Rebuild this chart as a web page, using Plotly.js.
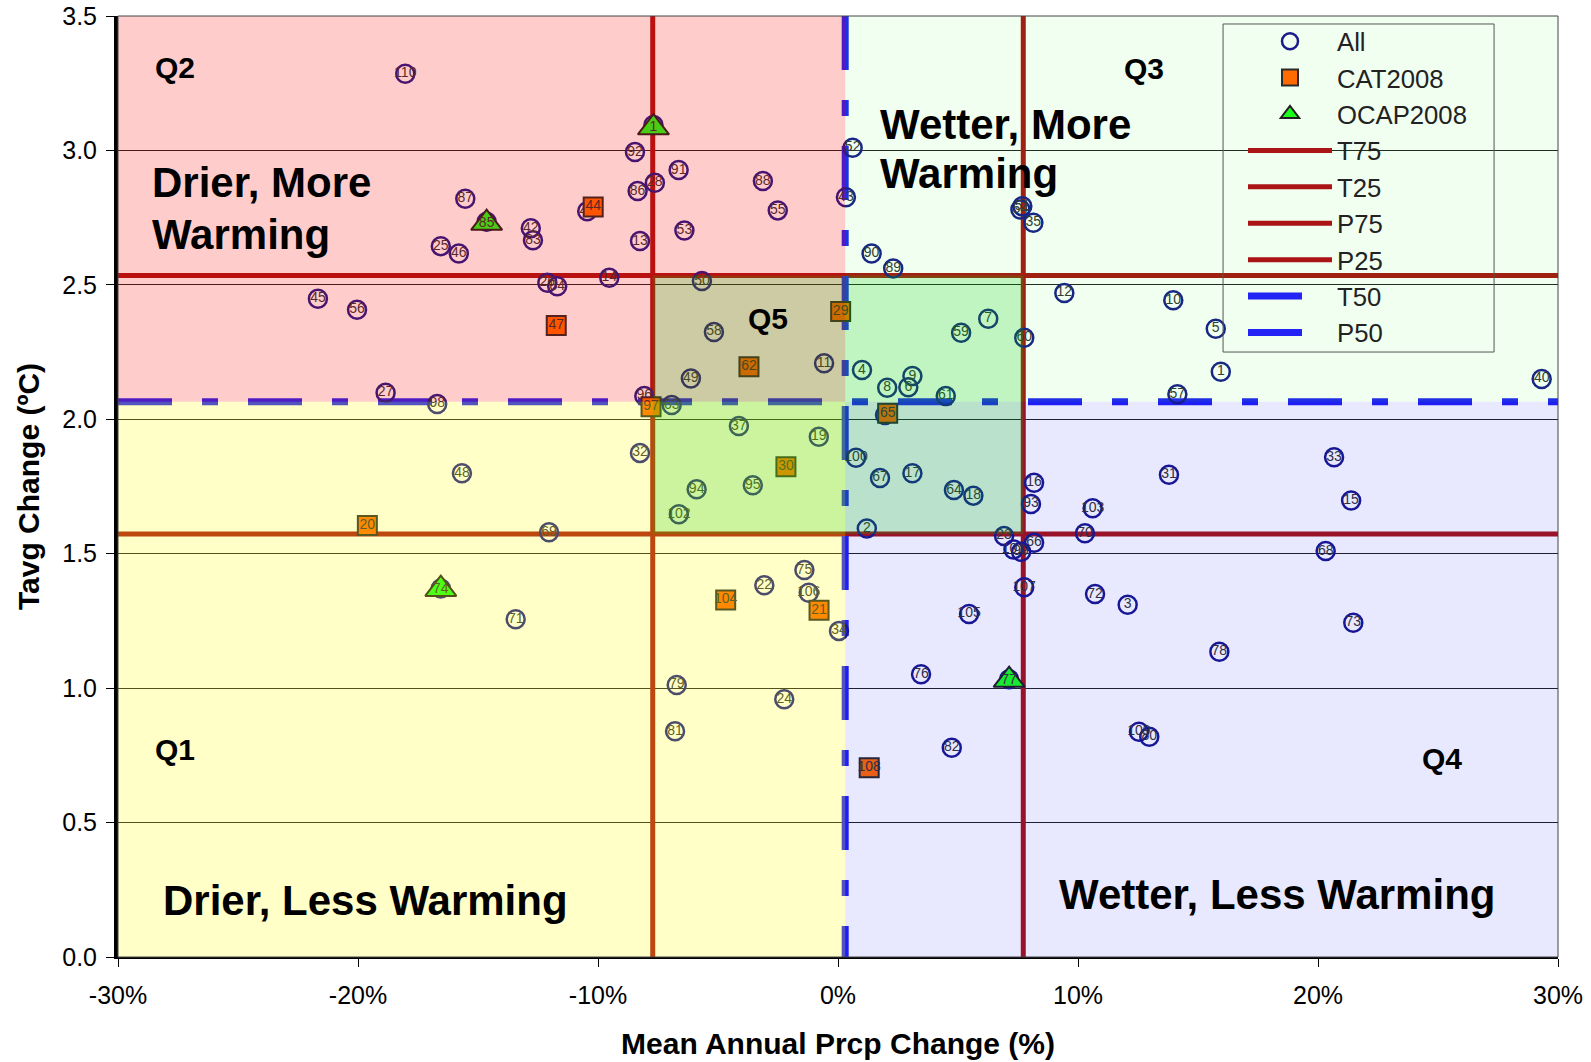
<!DOCTYPE html>
<html><head><meta charset="utf-8">
<script src="https://cdn.plot.ly/plotly-3.0.1.min.js"></script>
<style>html,body{margin:0;padding:0;background:#fff}#chart{width:1591px;height:1062px}</style>
</head><body><div id="chart"></div>
<script>
// ---- data ----
const allLabels = ["110","87","85","25","46","42","83","41","45","56","26","84","14","1","92","91","28","86","88","55","53","13","52","43","50","58","27","98","96","63","49","11",
"54","51","35","90","89","12","7","59","60","10","5","1","40","57","4","9","8","6","61",
"65","37","19","32","100","67","17","94","95","64","18","16","93","102","2","23","101","99","66","70","103","33","31","15","68","72","3","73","78","109","80",
"75","22","106","34","105","107","79","24","81","76","77","82","48","69","74","71"];
const allX = [-18.03,-15.53,-14.64,-16.55,-15.80,-12.80,-12.71,-10.45,-21.67,-20.04,-12.11,-11.70,-9.53,-7.69,-8.46,-6.64,-7.63,-8.35,-3.13,-2.51,-6.40,-8.25,0.61,0.33,-5.67,-5.17,-18.85,-16.70,-8.07,-6.93,-6.13,-0.58,
7.60,7.68,8.14,1.40,2.30,9.43,6.26,5.13,7.76,13.97,15.74,15.95,29.32,14.14,1.00,3.10,2.05,2.93,4.49,
1.96,-4.13,-0.80,-8.25,0.75,1.75,3.10,-5.89,-3.55,4.83,5.64,8.17,8.04,-6.63,1.20,6.92,7.31,7.63,8.17,10.29,10.61,20.67,13.79,21.38,20.32,10.71,12.07,21.47,15.89,12.54,12.97,
-1.40,-3.07,-1.22,0.04,5.46,7.76,-6.72,-2.24,-6.79,3.46,7.13,4.74,-15.67,-12.04,-16.55,-13.43];
const allY = [3.285,2.820,2.735,2.644,2.617,2.711,2.666,2.774,2.448,2.407,2.508,2.495,2.526,3.095,2.994,2.927,2.880,2.849,2.886,2.777,2.702,2.663,3.010,2.826,2.514,2.325,2.099,2.057,2.087,2.053,2.152,2.208,
2.780,2.792,2.731,2.617,2.561,2.470,2.374,2.322,2.303,2.443,2.337,2.177,2.150,2.093,2.183,2.161,2.117,2.119,2.087,
2.016,1.975,1.935,1.875,1.857,1.782,1.799,1.740,1.755,1.737,1.716,1.764,1.685,1.647,1.594,1.566,1.516,1.507,1.541,1.576,1.669,1.859,1.794,1.698,1.510,1.350,1.310,1.243,1.135,0.838,0.819,
1.439,1.383,1.355,1.213,1.276,1.375,1.012,0.959,0.840,1.052,1.033,0.778,1.799,1.580,1.371,1.256];

const catLabels = ["44","47","20","29","62","97","65","30","104","21","108"];
const catX = [-10.20,-11.74,-19.61,0.11,-3.71,-7.79,2.07,-2.17,-4.68,-0.79,1.30];
const catY = [2.790,2.349,1.605,2.401,2.195,2.047,2.022,1.823,1.328,1.290,0.704];

const ocapLabels = ["1","85","74","77"];
const ocapX = [-7.69,-14.64,-16.55,7.13];
const ocapY = [3.085,2.730,1.368,1.030];

const T75 = 2.535, T25 = 1.573, P75 = 7.72, P25 = -7.72, T50 = 2.065, P50 = 0.3;
const xRange = [-30, 30];
const yRange = [0, 3.5];
const xTickVals = [-30,-20,-10,0,10,20,30];
const xTickText = ["-30%","-20%","-10%","0%","10%","20%","30%"];
const yTickVals = [0,0.5,1,1.5,2,2.5,3,3.5];
const yTickText = ["0.0","0.5","1.0","1.5","2.0","2.5","3.0","3.5"];

// ---- styling ----
const FONT = "Liberation Sans, Arial, sans-serif";
const RED = "#AA1414", BLUE = "#2323F5";
const dashPat = "54px,30px,16px,30px";

const hLine = (name, v, color, dash, width, rank) => ({
  type: "scatter", mode: "lines", name, x: [xRange[0], xRange[1]], y: [v, v],
  line: {color, width, dash}, hoverinfo: "skip", legendrank: rank
});
const vLine = (name, v, color, dash, width, rank) => ({
  type: "scatter", mode: "lines", name, x: [v, v], y: [yRange[1], yRange[0]],
  line: {color, width, dash}, hoverinfo: "skip", legendrank: rank
});

const labelFont = {family: FONT, size: 14, color: "#333"};
const traces = [
  hLine("T75", T75, RED, "solid", 5, 4),
  hLine("T25", T25, RED, "solid", 5, 5),
  vLine("P75", P75, RED, "solid", 5, 6),
  vLine("P25", P25, RED, "solid", 5, 7),
  hLine("T50", T50, BLUE, dashPat, 7, 8),
  vLine("P50", P50, BLUE, dashPat, 7, 9),
  {type: "scatter", mode: "markers", name: "All", x: allX, y: allY, legendrank: 1,
   marker: {symbol: "circle-open", size: 18, color: "#1a1a8c", line: {width: 2.5, color: "#1a1a8c"}}},
  {type: "scatter", mode: "text", x: allX, y: allY, text: allLabels, showlegend: false, hoverinfo: "skip",
   textposition: "middle center", textfont: labelFont},
  {type: "scatter", mode: "markers", name: "CAT2008", x: catX, y: catY, legendrank: 2,
   marker: {symbol: "square", size: 19, color: "#FF6A00", line: {width: 2, color: "#2a2a2a"}}},
  {type: "scatter", mode: "text", x: catX, y: catY, text: catLabels, showlegend: false, hoverinfo: "skip",
   textposition: "middle center", textfont: labelFont},
  {type: "scatter", mode: "markers", name: "OCAP2008", x: ocapX, y: ocapY, legendrank: 3,
   marker: {symbol: "triangle-up", size: 27, color: "#1CFF1C", line: {width: 2, color: "#202020"}}},
  {type: "scatter", mode: "text", x: ocapX, y: ocapY, text: ocapLabels, showlegend: false, hoverinfo: "skip",
   textposition: "middle center", textfont: labelFont}
];

const rect = (x0, x1, y0, y1, fill) => ({type: "rect", xref: "x", yref: "y", x0, x1, y0, y1,
  fillcolor: fill, line: {width: 0}, layer: "above"});
const shapes = [
  rect(xRange[0], P50, T50, yRange[1], "rgba(255,0,0,0.2)"),
  rect(xRange[0], P50, yRange[0], T50, "rgba(255,255,0,0.22)"),
  rect(P50, xRange[1], T50, yRange[1], "rgba(0,255,0,0.06)"),
  rect(P50, xRange[1], yRange[0], T50, "rgba(0,0,255,0.09)"),
  rect(P25, P75, T25, T75, "rgba(0,200,0,0.2)"),
  // plot frame
  {type: "rect", xref: "paper", yref: "paper", x0: 0, x1: 1, y0: 0, y1: 1,
   line: {color: "#444", width: 1}, fillcolor: "rgba(0,0,0,0)", layer: "above"},
  // legend frame
  {type: "rect", xref: "paper", yref: "paper", x0: 0.7674, x1: 0.9556, y0: 0.6429, y1: 0.9915,
   line: {color: "#555", width: 1}, fillcolor: "rgba(0,0,0,0)", layer: "above"}
];

const ann = (text, x, y, size, xanchor) => ({text, x, y, xref: "x", yref: "y", showarrow: false,
  xanchor: xanchor || "left", yanchor: "middle", font: {family: FONT, size, color: "#000", weight: "bold"}});
const annotations = [
  ann("Q2", -28.54, 3.308, 30),
  ann("Q3", 11.83, 3.304, 30),
  ann("Q5", -3.85, 2.374, 30),
  ann("Q1", -28.54, 0.770, 30),
  ann("Q4", 24.25, 0.738, 30),
  ann("Drier, More", -28.67, 2.879, 42),
  ann("Warming", -28.67, 2.687, 42),
  ann("Wetter, More", 1.67, 3.096, 42),
  ann("Warming", 1.67, 2.914, 42),
  ann("Drier, Less Warming", -28.2, 0.212, 42),
  ann("Wetter, Less Warming", 27.46, 0.231, 42, "right")
];

const layout = {
  width: 1591, height: 1062,
  margin: {l: 118, r: 33, t: 16, b: 105},
  paper_bgcolor: "#fff", plot_bgcolor: "#fff",
  font: {family: FONT, color: "#000"},
  showlegend: true,
  legend: {x: 0.78125, y: 0.9979, xanchor: "left", yanchor: "top", bgcolor: "rgba(0,0,0,0)",
           borderwidth: 0, font: {family: FONT, size: 25.7, color: "#222"},
           itemwidth: 84, traceorder: "normal"},
  xaxis: {range: xRange, tickmode: "array", tickvals: xTickVals, ticktext: xTickText,
          ticks: "outside", ticklen: 8, tickwidth: 1, tickcolor: "#000",
          showline: true, linecolor: "#000", linewidth: 2, showgrid: false, zeroline: false,
          tickfont: {family: FONT, size: 25, color: "#000"}, ticklabelstandoff: 7,
          title: {text: "Mean Annual Prcp Change (%)", font: {family: FONT, size: 30, weight: "bold", color: "#000"}, standoff: 25}},
  yaxis: {range: yRange, tickmode: "array", tickvals: yTickVals, ticktext: yTickText,
          ticks: "outside", ticklen: 8, tickwidth: 1, tickcolor: "#000",
          showline: true, linecolor: "#000", linewidth: 4, showgrid: true, gridcolor: "#222", gridwidth: 1,
          zeroline: false, tickfont: {family: FONT, size: 25, color: "#000"}, ticklabelstandoff: 4,
          title: {text: "Tavg Change (ºC)", font: {family: FONT, size: 30, weight: "bold", color: "#000"}, standoff: 15}},
  shapes, annotations
};

Plotly.newPlot("chart", traces, layout, {displayModeBar: false, staticPlot: true});
</script></body></html>
